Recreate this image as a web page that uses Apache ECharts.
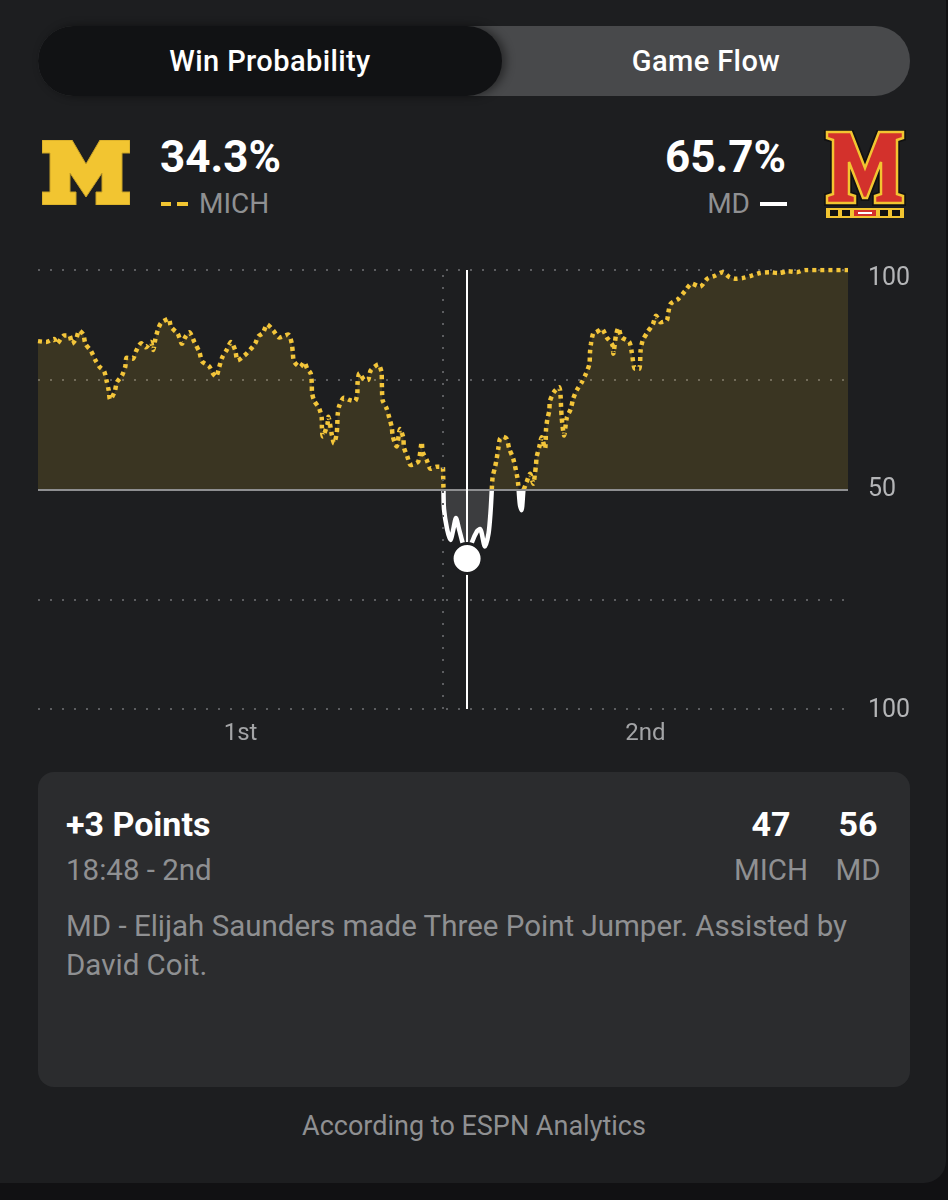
<!DOCTYPE html>
<html>
<head>
<meta charset="utf-8">
<script src="https://cdn.jsdelivr.net/npm/echarts@6/dist/echarts.min.js"></script>
<style>
  html, body { margin: 0; padding: 0; }
  body { width: 948px; height: 1200px; background: #111113; position: relative; overflow: hidden; font-family: Roboto, "Noto Sans", sans-serif; }
  .panel { position: absolute; left: -20px; top: -20px; width: 966px; height: 1203px; border-radius: 22px; background: #1d1e20; }
  .abs { position: absolute; white-space: nowrap; }
  .toggle { left: 38px; top: 26px; width: 872px; height: 70px; border-radius: 35px; background: #48494b; }
  .toggle-on { left: 38px; top: 26px; width: 464px; height: 70px; border-radius: 35px; background: #111214; box-shadow: 4px 0 10px rgba(0,0,0,0.45); }
  .tab { top: 26px; height: 70px; line-height: 70px; font-size: 29px; font-weight: 500; color: #fff; text-align: center; letter-spacing: 0.4px; }
  .pct { font-size: 44px; font-weight: 700; color: #fff; line-height: 44px; }
  .abbr { font-size: 28px; color: #8f9092; line-height: 28px; }
  .card { left: 38px; top: 772px; width: 872px; height: 315px; border-radius: 16px; background: #2b2c2e; }
  .big { font-size: 34px; font-weight: 700; color: #fff; line-height: 34px; }
  .sub { font-size: 29.5px; color: #8f9092; line-height: 30px; }
  #chart { position: absolute; left: 0; top: 0; width: 948px; height: 780px; }
</style>
</head>
<body>
<div class="panel"></div>
<div class="abs toggle"></div>
<div class="abs toggle-on"></div>
<div class="abs tab" style="left:38px;width:464px;">Win Probability</div>
<div class="abs tab" style="left:502px;width:408px;">Game Flow</div>

<svg class="abs" style="left:42px;top:140px;" width="88" height="65" viewBox="0 0 88 65">
  <polygon fill="#f2c531" stroke="#c9a227" stroke-width="1"
    points="0,0 30,0 44,24 58,0 88,0 88,13 80,13 80,52 88,52 88,65 54,65 54,52 60,52 60,33 44,57 28,33 28,52 34,52 34,65 0,65 0,52 8,52 8,13 0,13"/>
</svg>
<div class="abs pct" style="left:160px;top:135px;">34.3%</div>
<div class="abs" style="left:161px;top:202px;width:10px;height:4px;background:#f2c531;"></div>
<div class="abs" style="left:177px;top:202px;width:11px;height:4px;background:#f2c531;"></div>
<div class="abs abbr" style="left:199px;top:190px;">MICH</div>

<div class="abs pct" style="right:162px;top:135px;">65.7%</div>
<div class="abs abbr" style="right:198px;top:190px;">MD</div>
<div class="abs" style="left:760px;top:202px;width:27px;height:4px;background:#fff;"></div>
<svg class="abs" style="left:824px;top:130px;" width="82" height="90" viewBox="0 0 82 90">
  <polygon fill="#d3312c" stroke="#111" stroke-width="6" stroke-linejoin="miter"
    points="3,2 27,2 41,38 55,2 79,2 79,8 73,10 73,64 79,66 79,73 51,73 51,66 57,64 57,32 43,68 39,68 25,32 25,64 31,66 31,73 3,73 3,66 9,64 9,10 3,8"/>
  <polygon fill="#d3312c" stroke="#f2c531" stroke-width="2.5" stroke-linejoin="miter"
    points="3,2 27,2 41,38 55,2 79,2 79,8 73,10 73,64 79,66 79,73 51,73 51,66 57,64 57,32 43,68 39,68 25,32 25,64 31,66 31,73 3,73 3,66 9,64 9,10 3,8"/>
  <rect x="2" y="78" width="78" height="10" fill="#f2c531"/>
  <rect x="6" y="80" width="8" height="6" fill="#111"/>
  <rect x="18" y="80" width="8" height="6" fill="#111"/>
  <rect x="30" y="80" width="22" height="6" fill="#d3312c"/>
  <rect x="34" y="82" width="14" height="2" fill="#fff"/>
  <rect x="56" y="80" width="8" height="6" fill="#111"/>
  <rect x="68" y="80" width="8" height="6" fill="#111"/>
</svg>

<div class="abs card"></div>
<div class="abs big" style="left:66px;top:807px;">+3 Points</div>
<div class="abs sub" style="left:66px;top:855px;">18:48 - 2nd</div>
<div class="abs big" style="left:731px;width:80px;text-align:center;top:807px;">47</div>
<div class="abs big" style="left:818px;width:80px;text-align:center;top:807px;">56</div>
<div class="abs sub" style="left:731px;width:80px;text-align:center;top:855px;">MICH</div>
<div class="abs sub" style="left:818px;width:80px;text-align:center;top:855px;">MD</div>
<div class="abs" style="left:66px;top:907px;width:800px;white-space:normal;font-size:29.5px;line-height:39px;color:#8f9092;">MD - Elijah Saunders made Three Point Jumper. Assisted by David Coit.</div>
<div class="abs" style="left:0;width:948px;text-align:center;top:1113px;font-size:27px;line-height:27px;color:#8f9092;">According to ESPN Analytics</div>

<div id="chart"></div>

<script>
// game clock elapsed (minutes, 2 x 20 min halves)
const times = [
  0.0, 0.40, 0.80, 0.92, 1.30, 1.55, 1.68, 1.88, 2.04, 2.24, 2.34, 2.62, 2.83, 3.03, 3.27, 3.39, 3.49, 3.56, 3.79, 3.89,
  4.15, 4.31, 4.38, 4.68, 4.84, 5.09, 5.33, 5.58, 5.69, 5.79, 5.91, 6.07, 6.45, 6.57, 6.90, 7.11, 7.27, 7.47, 7.72, 7.97,
  8.10, 8.46, 8.63, 8.79, 8.95, 9.09, 9.32, 9.53, 9.74, 9.86, 10.19, 10.47, 10.72, 10.88, 11.10, 11.32, 11.62, 11.92, 12.36, 12.53,
  12.58, 12.64, 12.94, 13.14, 13.30, 13.47, 13.52, 13.53, 13.63, 13.89, 14.01, 14.02, 14.06, 14.29, 14.34, 14.50, 14.62, 14.75, 14.78, 14.80,
  14.88, 15.11, 15.37, 15.65, 15.77, 15.78, 15.87, 16.15, 16.31, 16.43, 16.80, 16.97, 16.98, 16.99, 17.02, 17.22, 17.35, 17.47, 17.52, 17.71,
  17.88, 18.04, 18.07, 18.24, 18.40, 18.78, 18.95, 19.00, 19.19, 19.39, 19.69, 19.99, 20.01, 20.02,
  20.05, 20.20, 20.37, 20.49, 20.64, 20.79, 20.96, 21.19, 21.43, 21.68, 21.83, 22.07, 22.25, 22.35, 22.41,
  22.45, 22.57, 22.65, 22.73, 22.81, 22.96, 23.15, 23.27, 23.47, 23.67, 23.72, 23.80, 23.88, 23.97,
  24.13, 24.30, 24.46, 24.54, 24.59, 24.63, 24.76, 24.87, 25.04, 25.09, 25.15, 25.25, 25.28, 25.48, 25.74, 25.81, 25.83, 25.86, 25.91, 25.98,
  26.11, 26.31, 26.43, 26.60, 26.85, 27.06, 27.23, 27.26, 27.31, 27.42, 27.56, 27.84, 28.08, 28.38, 28.41, 28.54, 28.66, 28.82, 29.20, 29.32,
  29.48, 29.69, 29.76, 29.86, 30.09, 30.36, 30.52, 30.75, 31.05, 31.13, 31.24, 31.62, 31.95, 32.28, 32.69, 33.05, 33.43, 33.81, 34.14, 34.47,
  34.83, 35.24, 35.65, 36.11, 36.56, 37.05, 37.47, 37.88, 40.0
];
// Michigan win probability (%)
const michProb = [
  83.8, 83.6, 84.3, 83.2, 85.1, 85.1, 83.2, 84.3, 86.2, 85.3, 83.2, 81.5, 79.5, 78.0, 76.9, 74.7, 72.6, 70.5, 72.3, 74.4,
  76.0, 78.0, 80.0, 79.8, 81.5, 83.3, 82.4, 83.6, 81.8, 84.1, 86.2, 87.9, 88.9, 87.0, 85.5, 83.2, 84.7, 85.8, 83.6, 81.3,
  79.2, 78.0, 76.5, 75.7, 77.9, 80.0, 81.8, 83.6, 81.7, 79.4, 80.5, 81.8, 83.2, 84.9, 85.6, 87.6, 86.2, 84.6, 85.3, 83.3,
  81.3, 79.2, 77.9, 79.0, 77.5, 76.4, 74.2, 72.2, 70.3, 68.4, 66.3, 64.2, 62.1, 64.8, 66.6, 62.7, 60.5, 62.8, 65.0, 67.1,
  69.1, 70.9, 70.4, 70.1, 71.9, 74.2, 76.5, 74.8, 75.0, 77.1, 78.5, 76.5, 74.4, 72.4, 70.3, 68.4, 66.3, 64.2, 62.1, 59.8,
  63.8, 61.8, 59.6, 57.5, 55.6, 56.4, 60.8, 58.5, 56.8, 54.7, 55.2, 55.1, 52.8, 50.9,
  45.5, 41.0, 38.5, 40.5, 43.5, 41.0, 38.0, 34.3, 38.0, 40.5, 41.0, 37.0, 40.0, 45.0, 50.0,
  52.8, 55.1, 57.0, 59.3, 61.5, 62.0, 61.5, 59.3, 57.0, 52.8, 50.9, 46.5, 45.3, 49.8,
  51.7, 53.6, 51.3, 53.6, 55.5, 57.5, 59.8, 61.9, 59.3, 63.8, 65.9, 68.0, 70.1, 72.2, 73.3, 71.0, 68.7, 66.5, 64.2, 62.3,
  66.3, 68.4, 70.7, 72.6, 74.4, 76.4, 78.6, 81.3, 83.3, 85.6, 85.8, 86.6, 84.7, 82.8, 80.9, 85.1, 86.8, 84.7, 83.6, 81.3,
  77.5, 77.5, 81.7, 83.9, 85.8, 87.6, 89.6, 88.1, 88.5, 90.4, 92.3, 93.4, 95.2, 96.9, 96.2, 98.0, 98.7, 99.5, 98.4, 98.0,
  98.2, 98.7, 99.3, 99.5, 99.3, 99.7, 99.5, 100, 100
];
const halfTime = 20;
const currentTime = 21.19;
const currentProb = 34.3;
const periodLabels = { 10: '1st', 30: '2nd' };

// split into MICH-favoured (above 50) and MD-favoured (below 50) pieces
const above = [], below = [];
for (let i = 0; i < times.length; i++) {
  const t = times[i], v = michProb[i];
  if (i > 0) {
    const t0 = times[i - 1], v0 = michProb[i - 1];
    if ((v0 - 50) * (v - 50) < 0) {
      const tc = t0 + (50 - v0) / (v - v0) * (t - t0);
      above.push([tc, 50]);
      below.push([tc, 50]);
    }
  }
  above.push([t, v >= 50 ? v : '-']);
  below.push([t, v <= 50 ? v : '-']);
}

const chart = echarts.init(document.getElementById('chart'), null, { renderer: 'canvas' });
const dotted = { type: [2, 10], width: 2, color: '#5c5d60' };
chart.setOption({
  backgroundColor: 'transparent',
  animation: false,
  textStyle: { fontFamily: 'Roboto' },
  grid: { left: 38, top: 270, width: 810, height: 439 },
  xAxis: {
    type: 'value', min: 0, max: 40, interval: 10,
    axisLine: { show: false }, axisTick: { show: false }, splitLine: { show: false },
    axisLabel: {
      margin: 13, fontSize: 24, color: '#a3a4a6',
      formatter: v => periodLabels[v] || ''
    }
  },
  yAxis: {
    type: 'value', min: 0, max: 100, interval: 25, position: 'right',
    axisLine: { show: false }, axisTick: { show: false },
    splitLine: { show: true, lineStyle: dotted },
    axisLabel: {
      margin: 20, fontSize: 25, color: '#b4b5b7',
      formatter: v => (v === 100 ? '{top|100}' : v === 50 ? '50' : v === 0 ? '{bot|100}' : ''),
      rich: {
        top: { fontSize: 25, color: '#b4b5b7', padding: [18, 0, 0, 0] },
        bot: { fontSize: 25, color: '#b4b5b7', padding: [4, 0, 0, 0] }
      }
    }
  },
  series: [
    {
      type: 'line', data: below, showSymbol: false, smooth: 0.25, connectNulls: false,
      lineStyle: { color: '#ffffff', width: 4.5 },
      areaStyle: { origin: 50, color: 'rgba(255,255,255,0.2)' },
      z: 3
    },
    {
      type: 'line', data: above, showSymbol: false, smooth: 0.25, connectNulls: false,
      lineStyle: { color: '#f3c53a', width: 4.5, type: [4, 4] },
      areaStyle: { origin: 50, color: 'rgba(242,197,49,0.2)' },
      z: 3,
      markLine: {
        silent: true, symbol: 'none', label: { show: false },
        data: [
          { yAxis: 50, lineStyle: { type: 'solid', color: '#8e8f91', width: 2 } },
          { xAxis: halfTime, lineStyle: dotted },
          { xAxis: currentTime, lineStyle: { type: 'solid', color: '#ffffff', width: 2 } }
        ]
      }
    },
    {
      type: 'scatter', data: [[currentTime, currentProb]], symbolSize: 30, z: 5,
      itemStyle: { color: '#ffffff', opacity: 1, borderColor: '#1d1e20', borderWidth: 3 }
    }
  ]
});
</script>
</body>
</html>
